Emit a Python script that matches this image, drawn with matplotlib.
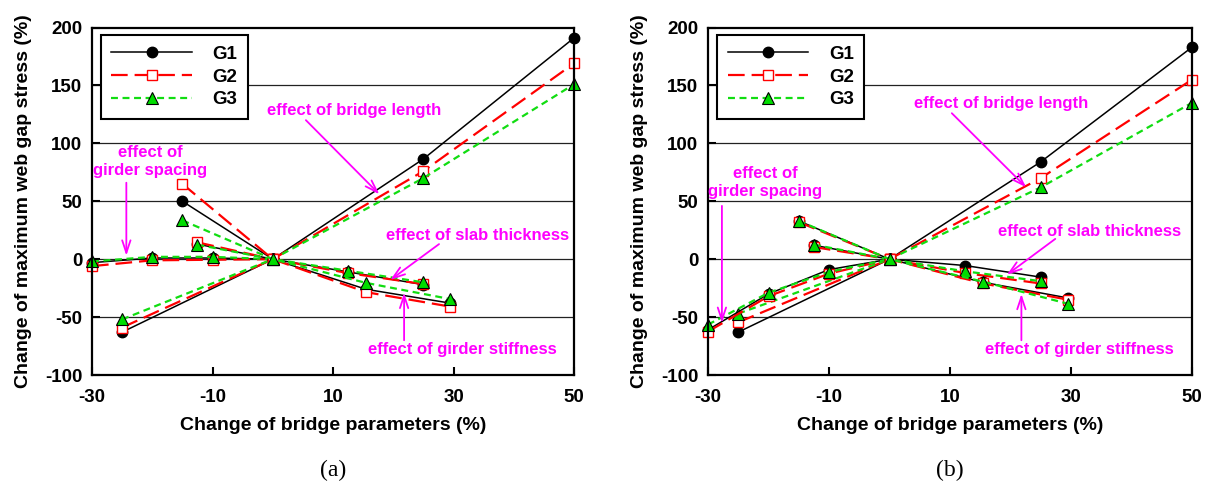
import matplotlib
matplotlib.use("Agg")
import matplotlib.pyplot as plt
from matplotlib import font_manager

# x positions of each parameter study (%)
x_length = [-25, 0, 25, 50]
x_spacing = [-30, -20, -10, 0]
x_slab = [-12.5, 0, 12.5, 25]
x_stiff = [-15, 0, 15.5, 29.5]

# panel (a)
a_length_g1 = [-63, 0, 86.5, 191]
a_length_g2 = [-59, 0, 76, 169]
a_length_g3 = [-52, 0, 70, 151]
a_spacing_g1 = [-3, 1, 1, 0]
a_spacing_g2 = [-6, -1, -0.5, 0]
a_spacing_g3 = [-2, 2, 2, 0]
a_slab_g1 = [13, 0, -11, -22]
a_slab_g2 = [14.5, 0, -12, -21.5]
a_slab_g3 = [12.5, 0, -10, -20]
a_stiff_g1 = [50, 0, -26, -38]
a_stiff_g2 = [65, 0, -28.5, -41]
a_stiff_g3 = [33.5, 0, -20.5, -34.5]

# panel (b)
b_length_g1 = [-63, 0, 84, 183]
b_length_g2 = [-54.5, 0, 70, 155]
b_length_g3 = [-47, 0, 62, 135]
b_spacing_g1 = [-61, -30, -9, 0]
b_spacing_g2 = [-62.5, -32, -12.5, 0]
b_spacing_g3 = [-56.5, -29, -11, 0]
b_slab_g1 = [12, 0, -5.5, -15.5]
b_slab_g2 = [10.5, 0, -12, -21]
b_slab_g3 = [12.5, 0, -10.5, -19]
b_stiff_g1 = [33, 0, -20, -33.5]
b_stiff_g2 = [32, 0, -21, -35]
b_stiff_g3 = [33, 0, -19.5, -38.5]

girders = ["G1", "G2", "G3"]

plt.rcParams["font.family"] = ["Liberation Sans", "DejaVu Sans"]
plt.rcParams["lines.scale_dashes"] = False
plt.rcParams["axes.unicode_minus"] = False

names = {f.name for f in font_manager.fontManager.ttflist}
if "Liberation Sans Narrow" in names:
    ann_font = dict(family=["Liberation Sans Narrow", "DejaVu Sans"], size=13.5)
else:
    ann_font = dict(family=["Liberation Sans", "DejaVu Sans"], size=12)

styles = {
    "G1": dict(color="black", lw=1.1, ls="-", marker="o", ms=7.5, mfc="black", mec="black"),
    "G2": dict(color="#ff0000", lw=1.6, ls=(0, (12, 5)), marker="s", ms=7, mfc="white", mec="#ff0000", mew=1.0),
    "G3": dict(color="#11dd11", lw=1.6, ls=(0, (5, 3.3)), marker="^", ms=8, mfc="#00dd00", mec="black", mew=0.8),
}

panels = [
    {
        "length": [a_length_g1, a_length_g2, a_length_g3],
        "spacing": [a_spacing_g1, a_spacing_g2, a_spacing_g3],
        "slab": [a_slab_g1, a_slab_g2, a_slab_g3],
        "stiff": [a_stiff_g1, a_stiff_g2, a_stiff_g3],
        "tag": "(a)",
        "rect": [92 / 1207, 1 - 375 / 493, 482 / 1207, 347.5 / 493],
        "notes": [
            ("effect of bridge length", (13.5, 128), (5.5, 120), (17.7, 56)),
            ("effect of\ngirder spacing", (-20.4, 84), (-24.3, 66), (-24.3, 3)),
            ("effect of slab thickness", (34, 20.5), (27.6, 13), (19.5, -18)),
            ("effect of girder stiffness", (31.4, -78), (21.8, -70), (21.8, -29)),
        ],
    },
    {
        "length": [b_length_g1, b_length_g2, b_length_g3],
        "spacing": [b_spacing_g1, b_spacing_g2, b_spacing_g3],
        "slab": [b_slab_g1, b_slab_g2, b_slab_g3],
        "stiff": [b_stiff_g1, b_stiff_g2, b_stiff_g3],
        "tag": "(b)",
        "rect": [708 / 1207, 1 - 375 / 493, 484 / 1207, 347.5 / 493],
        "notes": [
            ("effect of bridge length", (18.4, 134), (10.3, 126), (22.6, 62)),
            ("effect of\ngirder spacing", (-20.6, 66.5), (-27.7, 46), (-27.7, -55)),
            ("effect of slab thickness", (33.1, 24), (27.4, 17.5), (19.4, -13.5)),
            ("effect of girder stiffness", (31.4, -78), (21.8, -70), (21.8, -30)),
        ],
    },
]

fig = plt.figure(figsize=(12.07, 4.93), dpi=100)

for p in panels:
    ax = fig.add_axes(p["rect"])
    for yv in [-50, 0, 50, 100, 150]:
        ax.axhline(yv, color="#222222", lw=0.9, zorder=1)

    for key, xs in [("length", x_length), ("spacing", x_spacing),
                    ("slab", x_slab), ("stiff", x_stiff)]:
        for g, ys in zip(girders, p[key]):
            ax.plot(xs, ys, label=g if key == "length" else None, zorder=3,
                    clip_on=False, **styles[g])

    ax.set_xlim(-30, 50)
    ax.set_ylim(-100, 200)
    ax.set_xticks([-30, -10, 10, 30, 50])
    ax.set_yticks([-100, -50, 0, 50, 100, 150, 200])
    ax.tick_params(direction="in", length=6, width=1.5, top=False, right=False,
                   labelsize=13.5)
    ax.tick_params(axis="x", pad=10)
    ax.tick_params(axis="y", pad=7)
    for lab in ax.get_xticklabels() + ax.get_yticklabels():
        lab.set_fontweight("bold")
    for s in ax.spines.values():
        s.set_linewidth(1.6)
        s.set_zorder(4)

    ax.set_xlabel("Change of bridge parameters (%)", fontsize=14, fontweight="bold", labelpad=8)
    ax.set_ylabel("Change of maximum web gap stress (%)", fontsize=14, fontweight="bold", labelpad=9)

    leg = ax.legend(loc="upper left", bbox_to_anchor=(0.019, 0.977), borderaxespad=0,
                    fancybox=False, framealpha=1, edgecolor="black", numpoints=1,
                    handlelength=4.3, handletextpad=1.1, labelspacing=0.3,
                    borderpad=0.55, prop=dict(weight="bold", size=13.5))
    leg.get_frame().set_linewidth(1.5)
    leg.set_zorder(6)

    for text, tpos, start, end in p["notes"]:
        ax.text(tpos[0], tpos[1], text, color="#ff00ff", fontweight="bold",
                ha="center", va="center", linespacing=1.25, zorder=5, **ann_font)
        ax.annotate("", xy=end, xytext=start,
                    arrowprops=dict(arrowstyle="->,head_length=0.9,head_width=0.3",
                                    color="#ff00ff", lw=1.3, shrinkA=0, shrinkB=0),
                    zorder=5)

    cx = p["rect"][0] + p["rect"][2] / 2
    fig.text(cx, 1 - 470 / 493, p["tag"], ha="center", va="center",
             fontsize=17, family=["Liberation Serif", "DejaVu Serif"])

fig.savefig("out.png", dpi=100)
